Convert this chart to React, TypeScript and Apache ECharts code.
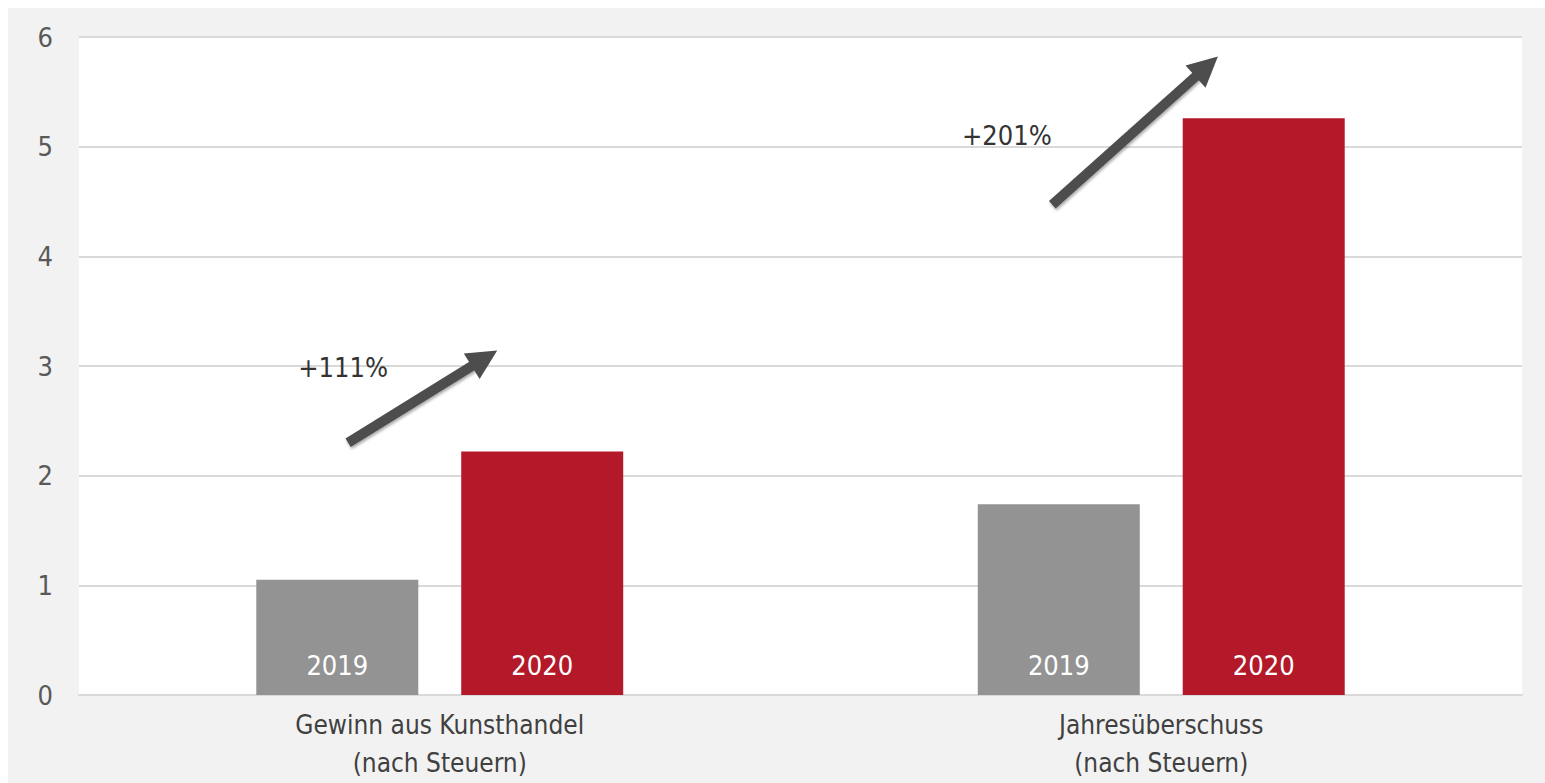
import React, { useEffect, useRef } from "react";
import * as echarts from "echarts";

const categories = ["Gewinn aus Kunsthandel\n(nach Steuern)", "Jahresüberschuss\n(nach Steuern)"];
const years = ["2019", "2020"];
const values2019 = [1.05, 1.74];
const values2020 = [2.22, 5.26];
const yTicks = { min: 0, max: 6, interval: 1 };
// annotation arrows in (category position, value) space: category i spans [i, i+1]
const arrowStarts = [[0.373, 2.3], [1.349, 4.47]];
const arrowEnds = [[0.562, 3.07], [1.563, 5.73]];
const changeLabels = ["+111%", "+201%"];
const changeLabelPos = [[0.366, 2.99], [1.286, 5.1]];

const FONT = "'Liberation Sans Narrow', 'DejaVu Sans Condensed', Roboto, sans-serif";

export default function App() {
  const ref = useRef<HTMLDivElement>(null);
  useEffect(() => {
    document.body.style.overflow = "hidden";
    const chart = echarts.init(ref.current!, null, { renderer: "svg" });
    const barLabel = (text: string) => ({
      show: true,
      position: "insideBottom",
      distance: 16,
      formatter: text,
      color: "#ffffff",
      fontSize: 27,
      fontFamily: FONT,
    });
    const option: any = {
      animation: false,
      backgroundColor: "#f2f2f2",
      textStyle: { fontFamily: FONT },
      grid: {
        left: 71,
        right: 23,
        top: 29,
        bottom: 88,
        show: true,
        backgroundColor: "#ffffff",
        borderWidth: 0,
      },
      xAxis: [
        {
          type: "category",
          data: categories,
          axisLine: { lineStyle: { color: "#d9d9d9", width: 2 } },
          axisTick: { show: false },
          axisLabel: {
            color: "#404040",
            fontSize: 26,
            lineHeight: 38,
            margin: 11,
            fontFamily: FONT,
          },
        },
        { type: "value", min: 0, max: 2, show: false },
      ],
      yAxis: {
        type: "value",
        min: yTicks.min,
        max: yTicks.max,
        interval: yTicks.interval,
        axisLine: { show: false },
        axisTick: { show: false },
        axisLabel: { color: "#595959", fontSize: 27, margin: 26, fontFamily: FONT },
        splitLine: { lineStyle: { color: "#d9d9d9", width: 2 } },
      },
      series: [
        {
          name: years[0],
          type: "bar",
          data: values2019,
          barWidth: 162,
          barGap: "26.5%",
          itemStyle: { color: "#939393" },
          label: barLabel(years[0]),
        },
        {
          name: years[1],
          type: "bar",
          data: values2020,
          barWidth: 162,
          barGap: "26.5%",
          itemStyle: { color: "#b31928" },
          label: barLabel(years[1]),
        },
        {
          type: "scatter",
          xAxisIndex: 1,
          symbolSize: 0,
          itemStyle: { color: "#333333", opacity: 1 },
          data: changeLabelPos.map((p, i) => ({ value: p, name: changeLabels[i] })),
          label: {
            show: true,
            position: "inside",
            formatter: (p: any) => p.name,
            color: "#333333",
            opacity: 1,
            textBorderWidth: 0,
            fontSize: 27,
            fontFamily: FONT,
          },
          silent: true,
          markLine: {
            silent: true,
            symbol: ["none", "triangle"],
            symbolSize: [30, 30],
            label: { show: false },
            lineStyle: {
              color: "#4d4d4d",
              width: 10,
              type: "solid",
              shadowBlur: 3,
              shadowColor: "rgba(0,0,0,0.35)",
              shadowOffsetX: 1,
              shadowOffsetY: 2,
            },
            itemStyle: { color: "#4d4d4d" },
            data: arrowStarts.map((s, i) => [{ coord: s }, { coord: arrowEnds[i] }]),
          },
        },
      ],
    };
    chart.setOption(option);
    return () => chart.dispose();
  }, []);
  return (
    <div
      ref={ref}
      style={{ position: "absolute", left: 8, top: 8, width: 1537, height: 775 }}
    />
  );
}
